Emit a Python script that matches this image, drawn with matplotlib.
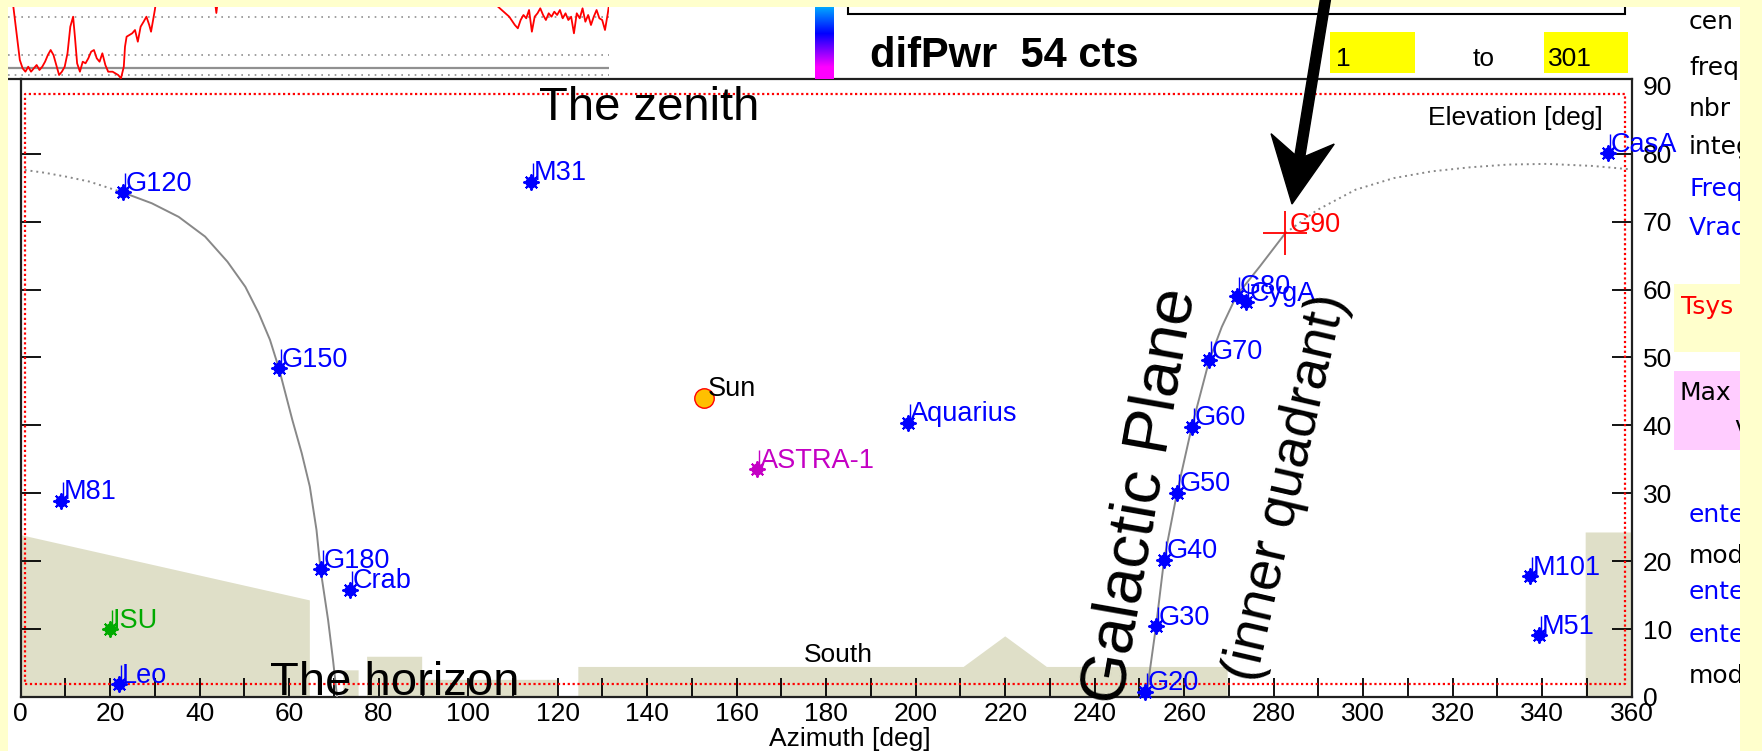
import matplotlib
matplotlib.use('Agg')
import matplotlib.pyplot as plt
import numpy as np
from matplotlib.patches import Rectangle, Polygon
from matplotlib.lines import Line2D
from matplotlib.colors import LinearSegmentedColormap
from matplotlib.path import Path

# ---------------- data ----------------
# sources: name, azimuth [deg], elevation [deg]
src_names = ['G120', 'M31', 'G150', 'M81', 'ISU', 'Leo', 'G180', 'Crab',
             'ASTRA-1', 'Aquarius', 'G20', 'G30', 'G40', 'G50', 'G60', 'G70',
             'G80', 'CygA', 'M101', 'M51', 'CasA']
src_az = [22.8, 114.0, 57.7, 9.0, 19.9, 21.9, 67.0, 73.5,
          164.5, 198.2, 251.2, 253.7, 255.5, 258.4, 261.7, 265.6,
          271.7, 273.9, 337.3, 339.3, 354.6]
src_el = [74.3, 75.9, 48.4, 28.9, 10.0, 1.9, 18.8, 15.8,
          33.5, 40.4, 0.8, 10.4, 20.2, 30.1, 39.8, 49.6,
          59.1, 58.1, 17.8, 9.1, 80.1]
src_colors = ['#0000ff'] * 4 + ['#00aa00'] + ['#0000ff'] * 3 + ['#c400c4'] + ['#0000ff'] * 12

sun_az, sun_el = [152.8], [44.1]
target_name = 'G90'
target_az, target_el = [282.6], [68.3]

# galactic plane
gal_left_dot_az = [0.9, 5.3, 10.3, 15.3, 22.8]
gal_left_dot_el = [77.6, 77.2, 76.6, 75.9, 74.3]
gal_left_az = [22.8, 29.3, 35.3, 41.2, 46.2, 50.2, 53.2, 55.7, 57.7, 60.7,
               62.8, 64.6, 66.1, 67.0, 68.7, 69.8, 70.7]
gal_left_el = [74.3, 72.7, 70.7, 67.8, 64.1, 60.4, 56.5, 52.6, 48.4, 40.8,
               35.9, 31.0, 24.6, 18.8, 11.3, 5.4, 0.0]
gal_right_az = [251.5, 253.7, 255.5, 258.4, 261.7, 265.6, 268.4, 271.7, 276.9, 282.6]
gal_right_el = [0.0, 10.4, 20.2, 30.1, 39.8, 49.6, 54.5, 59.1, 63.4, 68.3]
gal_right_dot_az = [282.6, 289.7, 298.3, 306.8, 315.3, 323.9, 332.4, 341.0, 351.2, 359.7]
gal_right_dot_el = [68.3, 71.7, 74.7, 76.4, 77.4, 78.0, 78.4, 78.5, 78.2, 77.7]

# local horizon profile
horizon_az = [0, 64.5, 64.5, 72.0, 72.0, 75.4, 75.4, 77.3, 77.3, 89.6, 89.6, 119.9, 119.9,
              124.5, 124.5, 210.6, 219.9, 229.2, 269.6, 269.6, 349.6, 349.6, 360]
horizon_el = [23.9, 14.3, 0, 0, 4.0, 4.0, 0, 0, 6.0, 6.0, 2.6, 2.6, 0,
              0, 4.5, 4.5, 9.0, 4.5, 4.5, 0, 0, 24.3, 24.3]

# pointing limits (red dotted box)
lim_az = [1.0, 358.5]
lim_el = [1.9, 88.8]

# spectrum strip (channel, value)
spec_chan = [3.2, 6.9, 8.3, 9.7, 11.1, 12.5, 13.9, 15.3, 16.7, 18.1, 19.5, 20.9, 22.3, 23.7,
             25.1, 26.5, 27.9, 29.3, 30.7, 32.1, 33.5, 34.4, 35.5, 36.9, 38.3, 39.7, 41.1,
             42.5, 43.9, 45.3, 46.7, 48.1, 49.6, 51.0, 53.2, 56.0, 57.4, 58.8, 59.4, 60.2,
             61.6, 63.0, 64.4, 65.8, 67.2, 68.7, 70.1, 71.5, 72.4, 74.3, 75.7,
             90, 103, 105, 107, 200, 243,
             245.6, 248.4, 251.2, 254.0, 255.5, 256.9, 258.3, 259.7, 261.1, 262.5, 263.9,
             265.3, 266.7, 268.1, 269.5, 270.9, 272.3, 273.7, 275.1, 276.5, 277.9, 279.3,
             280.7, 282.1, 283.5, 284.9, 286.4, 287.8, 289.2, 290.6, 292.0, 293.4, 294.8,
             296.2, 297.6, 299.0, 300.4, 301.0]
spec_val = [80, 19, 10.7, 7.3, 12.3, 7.3, 10.7, 14, 9, 12.3, 17.3, 24, 29, 24,
            14, 4, 7.3, 12.3, 25.7, 52.3, 62.3, 42.3, 15.7, 7.3, 17.3, 15.7, 20.7,
            27.3, 29, 20.7, 17.3, 25.7, 14, 7.3, 7.3, 4, 0.7, 12.3, 32.3, 42.3,
            44, 45.7, 49, 37.3, 52.3, 57.3, 62.3, 54, 47.3, 69, 90,
            100, 100, 66, 100, 100, 100,
            72.3, 67.3, 62.3, 54, 50.7, 59, 64, 60.7, 69, 47.3, 62.3,
            65.7, 70.7, 64, 59, 65.7, 62.3, 67.3, 64, 69, 60.7, 65.7,
            59, 62.3, 45.7, 65.7, 60.7, 70.7, 57.3, 64, 54, 62.3, 69,
            60.7, 59, 49, 65.7, 74]
spec_grid_dotted = [62, 24, 4]
spec_grid_solid = [11]

xtick_vals = list(range(0, 361, 10))
ytick_vals = list(range(0, 91, 10))

panel_lines = [('cen', '#000000'), ('freq', '#000000'), ('nbr', '#000000'),
               ('integ', '#000000'), ('Freq', '#0000ff'), ('Vrad', '#0000ff'),
               ('Tsys', '#ff0000'), ('Max', '#000000'), ('vel', '#000000'),
               ('enter', '#0000ff'), ('mode', '#000000'), ('enter', '#0000ff'),
               ('enter', '#0000ff'), ('mode', '#000000')]
panel_x = [1689, 1689, 1689, 1689, 1689, 1689, 1681, 1680, 1734, 1689, 1689, 1689, 1689, 1689]
panel_y = [22, 68, 109, 147, 189, 228, 307, 393, 427, 515, 556, 592, 635, 676]

# ---------------- figure ----------------
W, H = 1762, 751
BG = '#ffffcc'
APP = ['Liberation Sans', 'DejaVu Sans']
WIDE = ['DejaVu Sans']
ARIAL = ['Liberation Sans', 'DejaVu Sans']

fig = plt.figure(figsize=(W / 100, H / 100), dpi=100)
fig.patch.set_facecolor(BG)


def fx(x):
    return x / W


def fy(y):
    return 1 - y / H


def frect(x0, y0, x1, y1, **kw):
    r = Rectangle((fx(x0), fy(y1)), fx(x1) - fx(x0), fy(y0) - fy(y1),
                  transform=fig.transFigure, **kw)
    fig.add_artist(r)
    return r


# white application area
frect(7.5, 7, 1740, 760, fc='white', ec='none', zorder=-20)

# ---------------- main sky plot ----------------
ax = fig.add_axes([fx(20.7), fy(697), fx(1631.7) - fx(20.7), fy(79) - fy(697)])
ax.set_xlim(0, 360)
ax.set_ylim(0, 91)
ax.set_facecolor('white')

ax.fill_between(horizon_az, 0, horizon_el, color='#dfdfc8', lw=0, zorder=1)

ax.plot([lim_az[0], lim_az[1], lim_az[1], lim_az[0], lim_az[0]],
        [lim_el[0], lim_el[0], lim_el[1], lim_el[1], lim_el[0]],
        color='red', ls=(0, (1, 1.2)), lw=1.6, zorder=2)

gray = '#888888'
ax.plot(gal_left_az, gal_left_el, color=gray, lw=1.4, zorder=3)
ax.plot(gal_right_az, gal_right_el, color=gray, lw=1.4, zorder=3)
ax.plot(gal_left_dot_az, gal_left_dot_el, color=gray, lw=1.4, ls=(0, (1, 2)), zorder=3)
ax.plot(gal_right_dot_az, gal_right_dot_el, color=gray, lw=1.4, ls=(0, (1, 2)), zorder=3)

flag = Path([(0.08, 0.0), (0.08, 1.0)], [Path.MOVETO, Path.LINETO])
for name, a, e, c in zip(src_names, src_az, src_el, src_colors):
    ax.plot(a, e, marker='8', ms=8.5, color=c, mec=c, zorder=5, clip_on=False)
    ax.plot(a, e, marker=(8, 2, 0), ms=11.5, mew=1.4, color=c, zorder=5, clip_on=False)
    ax.plot(a, e, marker=flag, ms=27, mew=1.0, color=c, zorder=5, clip_on=False)
    ax.annotate(name, (a, e), xytext=(2, 1), textcoords='offset points', color=c,
                fontsize=19.5, family=APP, ha='left', va='baseline',
                annotation_clip=False, zorder=6)

ax.plot(sun_az, sun_el, 'o', ms=14, mfc='#ffc000', mec='red', mew=1.0, zorder=5)
ax.annotate('Sun', (sun_az[0], sun_el[0]), xytext=(2, 1), textcoords='offset points',
            color='black', fontsize=19.5, family=APP, ha='left', va='baseline', zorder=6)

ax.plot(target_az, target_el, '+', ms=32, mew=1.3, color='red', zorder=5)
ax.annotate(target_name, (target_az[0], target_el[0]), xytext=(3, 1),
            textcoords='offset points', color='red', fontsize=19.5, family=APP,
            ha='left', va='baseline', zorder=6)

ax.set_xticks(xtick_vals)
ax.set_xticklabels([str(v) if v % 20 == 0 else '' for v in xtick_vals])
ax.set_yticks(ytick_vals)
ax.set_yticklabels([str(v) for v in ytick_vals])
ax.tick_params(axis='x', direction='in', length=14, width=1.3, pad=3.5, top=False,
               labelsize=19, colors='black')
ax.tick_params(axis='y', direction='in', length=14.5, width=1.3, pad=8, left=True,
               right=True, labelleft=False, labelright=True, labelsize=19)
for lab in ax.get_xticklabels() + ax.get_yticklabels():
    lab.set_family(APP)
for t, v in zip(ax.yaxis.get_major_ticks(), ytick_vals):
    if v in (0, 90):
        t.tick1line.set_visible(False)
        t.tick2line.set_visible(False)
for sp in ax.spines.values():
    sp.set_linewidth(1.6)
    sp.set_color('#202020')

# annotations added on the screenshot
fig.text(fx(539), fy(120), 'The zenith', fontsize=34, family=ARIAL, ha='left',
         va='baseline', zorder=20)
fig.text(fx(269.5), fy(695), 'The horizon', fontsize=34, family=ARIAL, ha='left',
         va='baseline', zorder=20)
fig.text(fx(1141), fy(496), 'Galactic Plane', fontsize=47, family=ARIAL, ha='center',
         va='center', rotation=80, rotation_mode='anchor', zorder=20)
fig.text(fx(1287), fy(488), '(inner quadrant)', fontsize=40, family=ARIAL, ha='center',
         va='center', rotation=77, rotation_mode='anchor', zorder=20)

fig.text(fx(1603), fy(125), 'Elevation [deg]', fontsize=19, family=APP, ha='right',
         va='baseline', zorder=20)
fig.text(fx(850), fy(746), 'Azimuth [deg]', fontsize=19, family=APP, ha='center',
         va='baseline', zorder=20)
fig.text(fx(838), fy(662), 'South', fontsize=19, family=APP, ha='center',
         va='baseline', zorder=20)

# ---------------- spectrum strip (top left) ----------------
ax_sp = fig.add_axes([fx(8), fy(79), fx(609) - fx(8), fy(7) - fy(79)])
ax_sp.set_xlim(1, 301)
ax_sp.set_ylim(0, 72)
ax_sp.axis('off')
for g in spec_grid_dotted:
    ax_sp.axhline(g, color='#909090', ls=(0, (1, 3)), lw=1.2)
for g in spec_grid_solid:
    ax_sp.axhline(g, color='#909090', lw=1.6)
ax_sp.plot(spec_chan, spec_val, color='red', lw=1.3)
fig.add_artist(Line2D([fx(7), fx(21)], [fy(79), fy(79)], color='#202020', lw=1.6,
                      transform=fig.transFigure))

# ---------------- colour bar + header ----------------
cmap = LinearSegmentedColormap.from_list(
    'dp', [(0.0, '#ff00ff'), (0.12, '#ff00ff'), (0.29, '#8000ff'), (0.46, '#0000ff'),
           (0.73, '#00aaff'), (1.0, '#00ffff')])
ax_cb = fig.add_axes([fx(815), fy(79), fx(834) - fx(815), fy(-20) - fy(79)])
ax_cb.imshow(np.linspace(0, 1, 256).reshape(-1, 1), aspect='auto', origin='lower',
             cmap=cmap, extent=[0, 1, 0, 1])
ax_cb.axis('off')

frect(848, -20, 1625, 14, fc='white', ec='black', lw=1.5, zorder=1)
fig.text(fx(870), fy(67), 'difPwr  54 cts', fontsize=30, fontweight='bold', family=APP,
         ha='left', va='baseline', zorder=5)
frect(1330, 32, 1415, 73, fc='#ffff00', ec='none', zorder=1)
frect(1544, 32, 1628, 73, fc='#ffff00', ec='none', zorder=1)
fig.text(fx(1336), fy(66), '1', fontsize=19, family=APP, ha='left', va='baseline', zorder=5)
fig.text(fx(1484), fy(66), 'to', fontsize=19, family=APP, ha='center', va='baseline', zorder=5)
fig.text(fx(1548), fy(66), '301', fontsize=19, family=APP, ha='left', va='baseline', zorder=5)

# ---------------- right panel ----------------
frect(1674, 284, 1740, 352, fc=BG, ec='none', zorder=1)
frect(1674, 371, 1740, 450, fc='#ffccff', ec='none', zorder=1)
for (txt, col), xx, yy in zip(panel_lines, panel_x, panel_y):
    fig.text(fx(xx), fy(yy), txt, color=col, fontsize=18, family=WIDE, ha='left',
             va='center', zorder=5)

# yellow frame on top
frect(0, -5, W + 5, 7, fc=BG, ec='none', zorder=50)
frect(1740, -5, W + 5, H + 5, fc=BG, ec='none', zorder=50)
frect(-5, -5, 7.5, H + 5, fc=BG, ec='none', zorder=50)

# ---------------- arrow ----------------
S = np.array([1327.0, -10.0])
T = np.array([1292.0, 204.0])
u = (T - S) / np.linalg.norm(T - S)
n = np.array([u[1], -u[0]])
pts = [T, T - 66 * u + 32 * n, T - 49 * u + 5 * n, S + 5 * n, S - 5 * n,
       T - 49 * u - 5 * n, T - 66 * u - 32 * n]
fig.add_artist(Polygon([(fx(p[0]), fy(p[1])) for p in pts], closed=True,
                       transform=fig.transFigure, fc='black', ec='black', zorder=60))

fig.savefig('out.png', dpi=100, facecolor=fig.get_facecolor())
